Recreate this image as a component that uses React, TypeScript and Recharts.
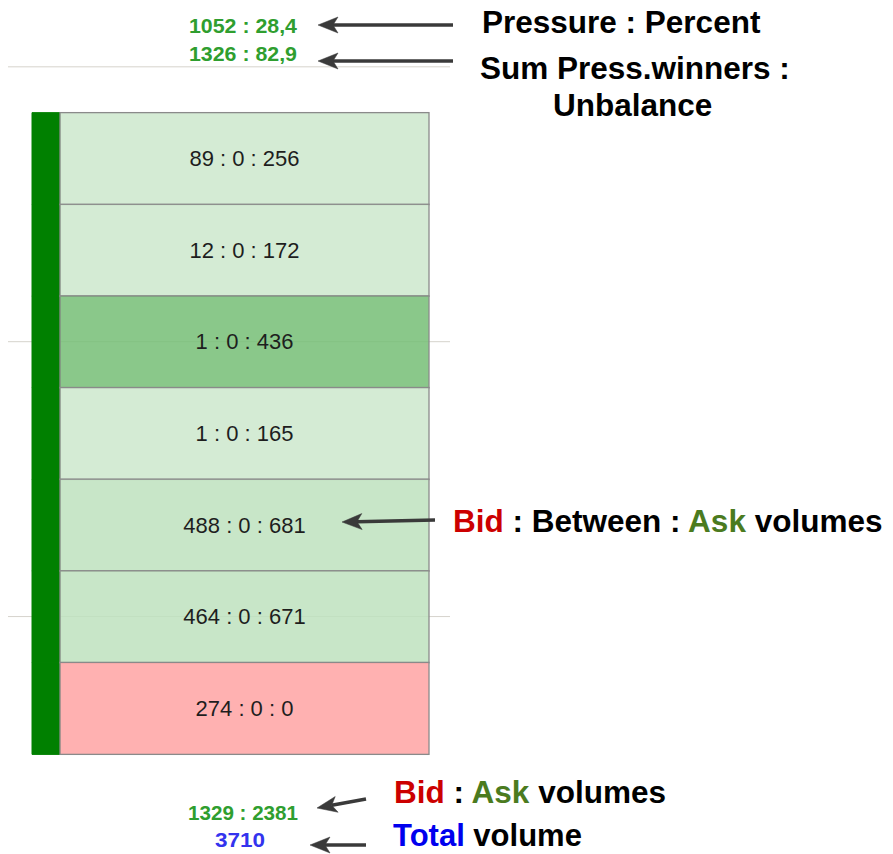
import { Bar, BarChart, CartesianGrid, XAxis, YAxis } from "recharts";

// footprint cluster, rows top to bottom
const priceLevels = [7, 6, 5, 4, 3, 2, 1];
const bidVolume = [89, 12, 1, 1, 488, 464, 274];
const betweenVolume = [0, 0, 0, 0, 0, 0, 0];
const askVolume = [256, 172, 436, 165, 681, 671, 0];
const cellTone = ["ask", "ask", "askImbalance", "ask", "askHeavy", "askHeavy", "bid"];

// empty price level above the cluster, and the levels that carry a grid line
const topLevel = 8;
const gridLevels = [8, 5, 2];

const pressure = 1052;
const pressurePercent = 28.4;
const sumPressWinners = 1326;
const unbalance = 82.9;

const toneFill: Record<string, string> = {
  ask: "#cce7cc",
  askHeavy: "#bee2be",
  askImbalance: "#75be75",
  bid: "#ffa3a3",
};

const COLUMN_W = 28;
const CELL_W = 369;

const rows = [
  { level: topLevel },
  ...priceLevels.map((level, i) => ({
    level,
    column: COLUMN_W,
    cell: CELL_W,
    tone: cellTone[i],
    label: `${bidVolume[i]} : ${betweenVolume[i]} : ${askVolume[i]}`,
  })),
];

const bidTotal = bidVolume.reduce((a, b) => a + b, 0);
const askTotal = askVolume.reduce((a, b) => a + b, 0);
const fmt = (v: number) => String(v).replace(".", ",");

const FONT = "'Liberation Sans', Arial, sans-serif";

function CellShape(props: any) {
  const { x, y, width, height, payload } = props;
  if (!width || !height || !payload?.label) return null;
  return (
    <g>
      <rect
        x={x}
        y={y}
        width={width}
        height={height}
        fill={toneFill[payload.tone]}
        fillOpacity={0.85}
        stroke="#8a8a8a"
        strokeWidth={1.3}
      />
      <text
        x={x + width / 2}
        y={y + height / 2}
        textAnchor="middle"
        dominantBaseline="central"
        fontFamily={FONT}
        fontSize={22}
        fill="#1e1e1e"
      >
        {payload.label}
      </text>
    </g>
  );
}

function Arrow({ from, to }: { from: [number, number]; to: [number, number] }) {
  const dx = to[0] - from[0];
  const dy = to[1] - from[1];
  const len = Math.hypot(dx, dy);
  const ux = dx / len;
  const uy = dy / len;
  const bx = to[0] - ux * 20;
  const by = to[1] - uy * 20;
  const nx = -uy * 8;
  const ny = ux * 8;
  const notchX = bx + ux * 5;
  const notchY = by + uy * 5;
  return (
    <g fill="#3a3a3a" stroke="#3a3a3a">
      <line x1={from[0]} y1={from[1]} x2={notchX} y2={notchY} strokeWidth={3.5} />
      <polygon
        points={`${to[0]},${to[1]} ${bx + nx},${by + ny} ${notchX},${notchY} ${bx - nx},${by - ny}`}
        strokeWidth={0.5}
      />
    </g>
  );
}

const boldText = { fontFamily: FONT, fontWeight: 700 } as const;

export default function App() {
  return (
    <div style={{ position: "relative", width: 893, height: 854, overflow: "hidden", background: "#fff" }}>
      <style>{"body{margin:0}"}</style>
      <BarChart
        width={893}
        height={854}
        data={rows}
        layout="vertical"
        margin={{ top: 21, right: 443, bottom: 100, left: 8 }}
        barCategoryGap={0}
        barGap={0}
      >
        <CartesianGrid vertical={false} stroke="#d6d3cc" syncWithTicks />
        <XAxis type="number" domain={[-24, 418]} allowDataOverflow hide />
        <YAxis type="category" dataKey="level" ticks={gridLevels} hide />
        <Bar
          dataKey="column"
          stackId="cluster"
          fill="#008000"
          stroke="#008000"
          strokeWidth={1}
          isAnimationActive={false}
        />
        <Bar dataKey="cell" stackId="cluster" shape={CellShape} isAnimationActive={false} />
      </BarChart>

      <svg
        width={893}
        height={854}
        style={{ position: "absolute", left: 0, top: 0, pointerEvents: "none" }}
      >
        <text x={243} y={33} textAnchor="middle" fontSize={21} fill="#2f9e2f" textLength={108} lengthAdjust="spacingAndGlyphs" {...boldText}>
          {`${pressure} : ${fmt(pressurePercent)}`}
        </text>
        <text x={243} y={61} textAnchor="middle" fontSize={21} fill="#2f9e2f" textLength={108} lengthAdjust="spacingAndGlyphs" {...boldText}>
          {`${sumPressWinners} : ${fmt(unbalance)}`}
        </text>
        <text x={243} y={820} textAnchor="middle" fontSize={21} fill="#2f9e2f" textLength={110} lengthAdjust="spacingAndGlyphs" {...boldText}>
          {`${bidTotal} : ${askTotal}`}
        </text>
        <text x={240} y={847} textAnchor="middle" fontSize={21} fill="#3333ee" textLength={50} lengthAdjust="spacingAndGlyphs" {...boldText}>
          {bidTotal + askTotal}
        </text>

        <Arrow from={[453, 25]} to={[318, 25]} />
        <Arrow from={[453, 61]} to={[318, 61]} />
        <Arrow from={[435, 520]} to={[342, 522]} />
        <Arrow from={[366, 799]} to={[317, 808]} />
        <Arrow from={[366, 845]} to={[310, 845]} />

        <text x={482} y={33} fontSize={31.5} fill="#000" {...boldText}>
          Pressure : Percent
        </text>
        <text x={480} y={79} fontSize={31.5} fill="#000" {...boldText}>
          Sum Press.winners :
        </text>
        <text x={553} y={116} fontSize={31.5} fill="#000" {...boldText}>
          Unbalance
        </text>
        <text x={453} y={532} fontSize={31.5} fill="#000" {...boldText}>
          <tspan fill="#cc0000">Bid</tspan>
          <tspan> : Between : </tspan>
          <tspan fill="#4b7b1f">Ask</tspan>
          <tspan> volumes</tspan>
        </text>
        <text x={394} y={803} fontSize={31.5} fill="#000" {...boldText}>
          <tspan fill="#cc0000">Bid</tspan>
          <tspan> : </tspan>
          <tspan fill="#4b7b1f">Ask</tspan>
          <tspan> volumes</tspan>
        </text>
        <text x={393} y={846} fontSize={31} fill="#000" {...boldText}>
          <tspan fill="#0000ee">Total</tspan>
          <tspan> volume</tspan>
        </text>
      </svg>
    </div>
  );
}
